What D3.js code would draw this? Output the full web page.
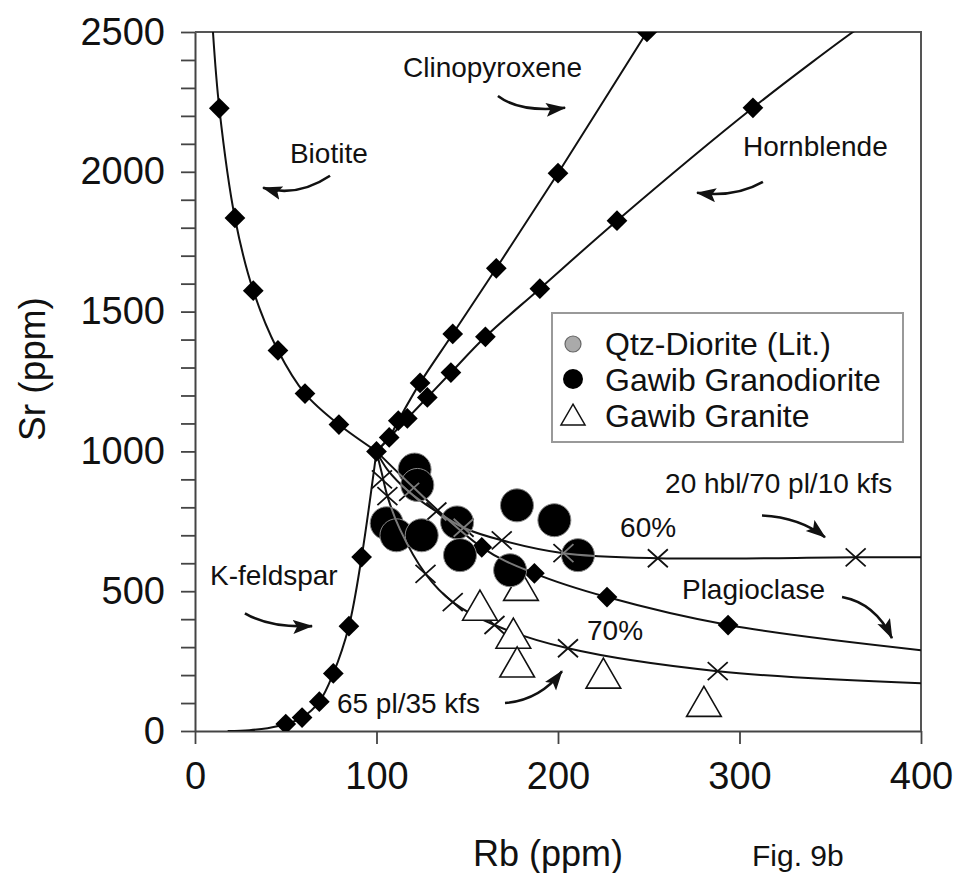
<!DOCTYPE html>
<html>
<head>
<meta charset="utf-8">
<script src="https://cdn.jsdelivr.net/npm/d3@7"></script>
<style>
  body { margin: 0; background: #fff; }
  svg { display: block; font-family: "Liberation Sans", Arial, sans-serif; }
</style>
</head>
<body>
<div id="chart"></div>
<script>
// fractionation curves (Rb ppm, Sr ppm)
const biotiteLine = [[9.9, 2500], [13.4, 2227], [22, 1835], [32.1, 1575], [45.7, 1361], [60.6, 1207], [79.3, 1096], [100, 1000]];
const biotiteMarks = [[13.4, 2227], [22, 1835], [32.1, 1575], [45.7, 1361], [60.6, 1207], [79.3, 1096], [100, 1000]];

const cpxLine = [[100, 1000], [107, 1050], [112, 1110], [124, 1245], [142, 1420], [166, 1655], [200, 1995], [249, 2500], [252, 2530]];
const cpxMarks = [[107, 1050], [112, 1110], [124, 1245], [142, 1420], [166, 1655], [200, 1995], [249, 2500]];

const hblLine = [[100, 1000], [117, 1118], [128, 1193], [141, 1282], [160, 1410], [190, 1582], [232.5, 1825], [307.4, 2229], [362.5, 2500], [366, 2515]];
const hblMarks = [[117, 1118], [128, 1193], [141, 1282], [160, 1410], [190, 1582], [232.5, 1825], [307.4, 2229]];

const kfsLine = [[18, 0], [30, 3], [40, 10], [50, 25], [59, 48], [68.5, 105], [76.2, 206], [84.8, 375], [91.8, 622], [100, 1000]];
const kfsMarks = [[50, 25], [59, 48], [68.5, 105], [76.2, 206], [84.8, 375], [91.8, 622]];

const plagLine = [[100, 1000], [158, 657], [187, 564], [227, 479], [293.7, 379], [400, 289]];
const plagMarks = [[158, 657], [187, 564], [227, 479], [293.7, 379]];

// mixed assemblages
const hblPlKfsLine = [[100, 1000], [106, 935], [118, 855], [133, 785], [148, 727], [169, 682], [203, 636], [255, 618], [364, 621], [400, 621]];
const hblPlKfsMarks = [[118, 855], [133, 785], [148, 727], [169, 682], [203, 636], [255, 618], [364, 621]];

const plKfsLine = [[100, 1000], [103, 920], [106, 840], [113, 720], [127, 562], [142, 461], [165, 379], [205.5, 296], [288, 214], [400, 171]];
const plKfsMarks = [[103, 900], [106, 840], [127, 562], [142, 461], [165, 379], [205.5, 296], [288, 214]];

// samples (no Qtz-Diorite point is visible; it sits under the black dots)
const qtzDiorite = [];
const granodiorite = [[121, 935], [122.5, 880], [105.6, 743], [111, 700], [124.9, 700], [144.4, 746], [146, 629], [177.4, 807], [198, 754], [211, 629], [173.6, 575]];
const granite = [[157, 432], [175.4, 332], [177.5, 229], [179.6, 503], [225, 189], [280.4, 88]];

// annotations
const labelText = ["Biotite", "Clinopyroxene", "Hornblende", "K-feldspar", "65 pl/35 kfs", "70%", "Plagioclase", "60%", "20 hbl/70 pl/10 kfs"];
const labelRb = [52.3, 114.6, 301.9, 8.3, 78.2, 216, 268.3, 234.2, 259];
const labelSr = [2032, 2339, 2057, 521, 64, 325, 471, 693, 850];

const arrowFrom = [[74.4, 1986], [166.9, 2271], [312.9, 1964], [27.5, 421], [170.8, 100], [356.5, 479], [312.4, 771]];
const arrowVia = [[56.2, 1907], [179.1, 2211], [297.5, 1907], [41.3, 368], [190.1, 111], [374.7, 457], [333.3, 764]];
const arrowTo = [[37.5, 1943], [203.9, 2229], [276.6, 1925], [64.5, 375], [202.2, 214], [384, 332], [347.1, 693]];

const xTicks = [0, 100, 200, 300, 400];
const yTicks = d3.range(0, 2501, 100);

const W = 953, H = 873;
const svg = d3.select('#chart').append('svg').attr('width', W).attr('height', H);

const x = d3.scaleLinear().domain([0, 400]).range([195, 921]);
const y = d3.scaleLinear().domain([0, 2500]).range([731, 32]);

const defs = svg.append('defs');
defs.append('clipPath').attr('id', 'plotClip')
    .append('rect')
    .attr('x', x(0)).attr('y', y(2500))
    .attr('width', x(400) - x(0)).attr('height', y(0) - y(2500));

defs.append('marker')
    .attr('id', 'head')
    .attr('markerUnits', 'userSpaceOnUse')
    .attr('markerWidth', 22).attr('markerHeight', 16)
    .attr('refX', 19).attr('refY', 7)
    .attr('orient', 'auto')
    .append('path')
    .attr('d', 'M0,0 L20,7 L0,14 L4,7 Z')
    .attr('fill', '#111');

const line = d3.line()
    .x(d => x(d[0]))
    .y(d => y(d[1]))
    .curve(d3.curveCatmullRom.alpha(0.5));

const allLines = [biotiteLine, cpxLine, hblLine, kfsLine, plagLine, hblPlKfsLine, plKfsLine];
const diamondSets = [biotiteMarks, cpxMarks, hblMarks, kfsMarks, plagMarks];
const crossSets = [hblPlKfsMarks, plKfsMarks];

const xMark = {
    draw(ctx, size) {
        const r = Math.sqrt(size) / 2;
        ctx.moveTo(-r, -r * 0.9); ctx.lineTo(r, r * 0.9);
        ctx.moveTo(-r, r * 0.9); ctx.lineTo(r, -r * 0.9);
    }
};

// axes
const yAxis = svg.append('g')
    .attr('transform', `translate(${x(0)},0)`)
    .call(d3.axisLeft(y).tickValues(yTicks).tickSize(14).tickSizeOuter(0).tickPadding(16)
        .tickFormat(d => d % 500 === 0 ? d : ''));
const xAxis = svg.append('g')
    .attr('transform', `translate(0,${y(0)})`)
    .call(d3.axisBottom(x).tickValues(xTicks).tickSize(13).tickSizeOuter(0).tickPadding(18));

[xAxis, yAxis].forEach(a => {
    a.select('.domain').attr('stroke', '#444').attr('stroke-width', 2);
    a.selectAll('.tick line').attr('stroke', '#444').attr('stroke-width', 1.8);
    a.selectAll('.tick text')
        .attr('fill', '#111')
        .style('font-size', '38px')
        .style('font-family', '"Liberation Sans", Arial, sans-serif');
});

// frame top + right
svg.append('path')
    .attr('d', `M${x(0)},${y(2500)} H${x(400)} V${y(0)}`)
    .attr('fill', 'none')
    .attr('stroke', '#555')
    .attr('stroke-width', 2);

const plot = svg.append('g').attr('clip-path', 'url(#plotClip)');

function drawCurves(g, color) {
    g.selectAll('.curve')
        .data(allLines)
        .enter()
        .append('path')
        .attr('class', 'curve')
        .attr('d', line)
        .attr('fill', 'none')
        .attr('stroke', color)
        .attr('stroke-width', 2);

    g.selectAll('.xm')
        .data(crossSets.flat())
        .enter()
        .append('path')
        .attr('class', 'xm')
        .attr('transform', d => `translate(${x(d[0])},${y(d[1])})`)
        .attr('d', d3.symbol().type(xMark).size(400))
        .attr('fill', 'none')
        .attr('stroke', color)
        .attr('stroke-width', 1.8);
}

drawCurves(plot, '#111');

plot.selectAll('.diamond')
    .data(diamondSets.flat())
    .enter()
    .append('path')
    .attr('class', 'diamond')
    .attr('transform', d => `translate(${x(d[0])},${y(d[1])}) rotate(45)`)
    .attr('d', d3.symbol().type(d3.symbolSquare).size(215))
    .attr('fill', '#000');

// granite triangles
plot.selectAll('.granite')
    .data(granite)
    .enter()
    .append('path')
    .attr('class', 'granite')
    .attr('transform', d => `translate(${x(d[0])},${y(d[1])})`)
    .attr('d', d3.symbol().type(d3.symbolTriangle).size(520))
    .attr('fill', '#fff')
    .attr('stroke', '#111')
    .attr('stroke-width', 1.6);

plot.selectAll('.qtz')
    .data(qtzDiorite)
    .enter()
    .append('circle')
    .attr('class', 'qtz')
    .attr('cx', d => x(d[0]))
    .attr('cy', d => y(d[1]))
    .attr('r', 16.5)
    .attr('fill', '#aaa')
    .attr('stroke', '#555');

plot.selectAll('.grd')
    .data(granodiorite)
    .enter()
    .append('circle')
    .attr('class', 'grd')
    .attr('cx', d => x(d[0]))
    .attr('cy', d => y(d[1]))
    .attr('r', 16.5)
    .attr('fill', '#000')
    .attr('stroke', '#8a8a8a')
    .attr('stroke-width', 1);

// lines seen through the black dots in grey
const dotClip = defs.append('clipPath').attr('id', 'dotClip');
dotClip.selectAll('circle')
    .data(granodiorite)
    .enter()
    .append('circle')
    .attr('cx', d => x(d[0]))
    .attr('cy', d => y(d[1]))
    .attr('r', 16.5);
drawCurves(svg.append('g').attr('clip-path', 'url(#dotClip)'), '#7a7a7a');

// annotations
svg.selectAll('.note')
    .data(labelText)
    .enter()
    .append('text')
    .attr('class', 'note')
    .attr('x', (d, i) => x(labelRb[i]))
    .attr('y', (d, i) => y(labelSr[i]))
    .attr('fill', '#111')
    .style('font-size', '28px')
    .text(d => d);

svg.selectAll('.arrow')
    .data(arrowFrom)
    .enter()
    .append('path')
    .attr('class', 'arrow')
    .attr('d', (d, i) => `M${x(d[0])},${y(d[1])} Q${x(arrowVia[i][0])},${y(arrowVia[i][1])} ${x(arrowTo[i][0])},${y(arrowTo[i][1])}`)
    .attr('fill', 'none')
    .attr('stroke', '#111')
    .attr('stroke-width', 2.6)
    .attr('marker-end', 'url(#head)');

// legend
const legendItems = ['Qtz-Diorite (Lit.)', 'Gawib Granodiorite', 'Gawib Granite'];
const legend = svg.append('g').attr('transform', 'translate(552,313)');
legend.append('rect')
    .attr('width', 351).attr('height', 129)
    .attr('fill', '#fff')
    .attr('stroke', '#999')
    .attr('stroke-width', 2);

legend.selectAll('.li')
    .data(legendItems)
    .enter()
    .append('text')
    .attr('class', 'li')
    .attr('x', 53)
    .attr('y', (d, i) => 42 + i * 36)
    .attr('fill', '#111')
    .style('font-size', '32px')
    .text(d => d);

legend.append('circle').attr('cx', 21).attr('cy', 31).attr('r', 8)
    .attr('fill', '#aaa').attr('stroke', '#666').attr('stroke-width', 1.2);
legend.append('circle').attr('cx', 21).attr('cy', 66).attr('r', 10).attr('fill', '#000');
legend.append('path')
    .attr('transform', 'translate(21,105)')
    .attr('d', d3.symbol().type(d3.symbolTriangle).size(250))
    .attr('fill', '#fff').attr('stroke', '#111').attr('stroke-width', 1.5);

// axis titles
svg.append('text')
    .attr('x', 548).attr('y', 866)
    .attr('text-anchor', 'middle')
    .attr('fill', '#111')
    .style('font-size', '36px')
    .text('Rb (ppm)');

svg.append('text')
    .attr('transform', 'translate(45,369) rotate(-90)')
    .attr('text-anchor', 'middle')
    .attr('fill', '#111')
    .style('font-size', '37px')
    .text('Sr (ppm)');

svg.append('text')
    .attr('x', 752).attr('y', 866)
    .attr('fill', '#111')
    .style('font-size', '30px')
    .text('Fig. 9b');
</script>
</body>
</html>
